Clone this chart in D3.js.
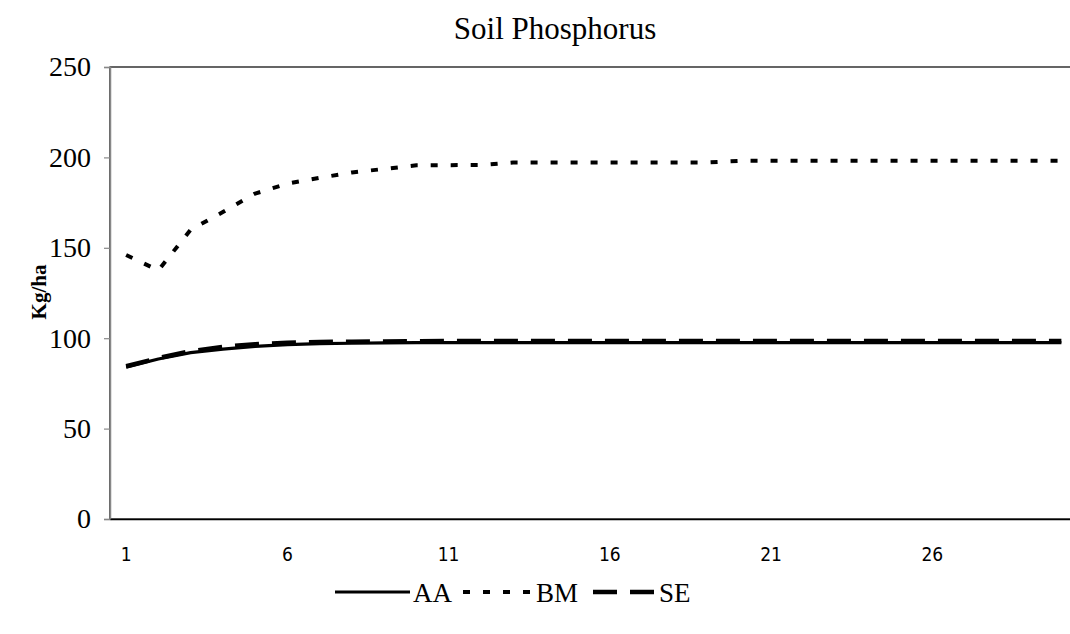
<!DOCTYPE html>
<html>
<head>
<meta charset="utf-8">
<script src="https://cdn.jsdelivr.net/npm/d3@7"></script>
<style>
  html, body { margin: 0; padding: 0; background: #fff; }
  svg { display: block; }
</style>
</head>
<body>
<svg id="chart" width="1070" height="634"></svg>
<script>
// ---- data ----
const years = d3.range(1, 31);
const seriesNames = ["AA", "BM", "SE"];
const AA = [84, 88.5, 92, 94, 95.5, 96.5, 97, 97.2, 97.4, 97.5, 97.5, 97.5, 97.5, 97.5, 97.5,
            97.5, 97.5, 97.5, 97.5, 97.5, 97.5, 97.5, 97.5, 97.5, 97.5, 97.5, 97.5, 97.5, 97.5, 97.5];
const BM = [146, 137.5, 160, 169.8, 180, 185.5, 188.7, 191.7, 193.6, 195.6, 195.7, 195.8, 197.2, 197.2, 197.2,
            197.2, 197.2, 197.2, 197.2, 198.1, 198.1, 198.1, 198.1, 198.1, 198.1, 198.1, 198.1, 198.1, 198.1, 198.1];
const SE = [84.5, 89, 92.8, 95.2, 96.7, 97.5, 97.9, 98.1, 98.2, 98.3, 98.4, 98.4, 98.4, 98.4, 98.4,
            98.4, 98.4, 98.4, 98.4, 98.4, 98.4, 98.4, 98.4, 98.4, 98.4, 98.4, 98.4, 98.4, 98.4, 98.4];
const yTicks = [0, 50, 100, 150, 200, 250];
const xTickLabels = ["1", "6", "11", "16", "21", "26"];

(function () {
// ---- layout ----
const svg = d3.select("#chart");
const mLeft = 110, mTop = 67, mBottom = 519, catW = 32.25;
const mRight = mLeft + years.length * catW;
const serif = "'Liberation Serif', 'Times New Roman', Times, serif";

const x = d3.scaleBand().domain(years.map(String)).range([mLeft, mRight]).padding(0);
const y = d3.scaleLinear().domain([0, 250]).range([mBottom, mTop]);
const cx = d => x(String(d)) + x.bandwidth() / 2;

// plot border
svg.append("rect")
  .attr("x", mLeft).attr("y", mTop)
  .attr("width", mRight - mLeft).attr("height", mBottom - mTop)
  .attr("fill", "none").attr("stroke", "#000").attr("stroke-width", 1.2);

// y axis
const yAxis = d3.axisLeft(y).tickValues(yTicks).tickSize(6).tickPadding(13);
const gy = svg.append("g").attr("transform", `translate(${mLeft},0)`).call(yAxis);
gy.select(".domain").attr("stroke", "#888").attr("stroke-width", 1.5);
gy.selectAll(".tick line").attr("stroke", "#888").attr("stroke-width", 1.2);
gy.selectAll(".tick text")
  .attr("font-family", serif)
  .attr("font-size", 28).attr("fill", "#000");

// x axis
const xAxis = d3.axisBottom(x)
  .tickValues(xTickLabels)
  .tickSize(0).tickPadding(29);
const gx = svg.append("g").attr("transform", `translate(0,${mBottom})`).call(xAxis);
gx.select(".domain").attr("stroke", "#000").attr("stroke-width", 1.5);
gx.selectAll(".tick text")
  .attr("font-family", "'Liberation Sans Narrow', 'DejaVu Sans Condensed', 'Arial Narrow', sans-serif")
  .style("font-stretch", "condensed")
  .attr("font-size", 19).attr("fill", "#000");

// title
svg.append("text")
  .attr("x", 555).attr("y", 39)
  .attr("text-anchor", "middle")
  .attr("font-family", serif)
  .attr("font-size", 31)
  .text("Soil Phosphorus");

// y title
svg.append("text")
  .attr("transform", "translate(46,292) rotate(-90)")
  .attr("text-anchor", "middle")
  .attr("font-family", serif)
  .attr("font-weight", "bold")
  .attr("font-size", 21)
  .text("Kg/ha");

// lines
const styles = {
  AA: { data: AA, width: 3.2, dash: null },
  BM: { data: BM, width: 4, dash: "7,13" },
  SE: { data: SE, width: 4.5, dash: "24,13" }
};
const line = d3.line().x((d, i) => cx(years[i])).y(d => y(d));

["AA", "SE", "BM"].forEach(name => {
  const s = styles[name];
  svg.append("path")
    .datum(s.data)
    .attr("d", line)
    .attr("fill", "none")
    .attr("stroke", "#000")
    .attr("stroke-width", s.width)
    .attr("stroke-dasharray", s.dash)
    .attr("stroke-linejoin", "round");
});

// legend
const legendY = 592;
const legendItems = [
  { name: "AA", x0: 335, x1: 410 },
  { name: "BM", x0: 463, x1: 533 },
  { name: "SE", x0: 593, x1: 656 }
];
const lg = svg.append("g");
legendItems.forEach(it => {
  const s = styles[it.name];
  lg.append("line")
    .attr("x1", it.x0).attr("x2", it.x1)
    .attr("y1", legendY).attr("y2", legendY)
    .attr("stroke", "#000")
    .attr("stroke-width", s.width)
    .attr("stroke-dasharray", s.dash);
  lg.append("text")
    .attr("x", it.x1 + 3).attr("y", legendY + 10)
    .attr("font-family", serif)
    .attr("font-size", 27)
    .text(it.name);
});
})();
</script>
</body>
</html>
